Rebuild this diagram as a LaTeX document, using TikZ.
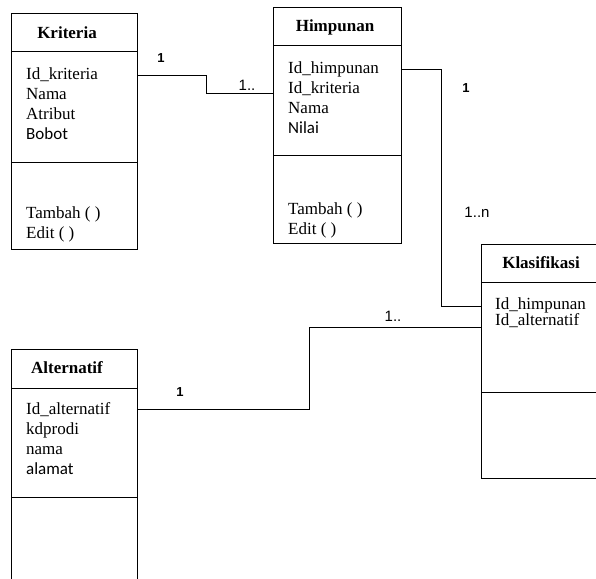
\documentclass[tikz,border=0pt]{standalone}
\usepackage{fontspec}
\setmainfont{Liberation Serif}
\newfontfamily\arialfont{Liberation Sans}
\newfontfamily\calibfont{Carlito}
\usetikzlibrary{positioning}
\tikzset{
  compart/.style={draw, line width=1pt, anchor=north west, inner sep=0pt, outer sep=0pt},
  classname/.style={font=\fontsize{17}{20}\selectfont\bfseries, inner sep=0pt},
  members/.style={font=\fontsize{17}{20}\selectfont, align=left, anchor=north west, inner sep=0pt},
  mult/.style={font=\arialfont\fontsize{15}{18}\selectfont, inner sep=0pt},
  multone/.style={font=\arialfont\fontsize{13}{15}\selectfont\bfseries, inner sep=0pt},
  link/.style={line width=1pt},
}

\begin{document}
\begin{tikzpicture}[x=1pt, y=-1pt]
    \useasboundingbox (0,0) rectangle (596,578);
    % Kriteria
    \node [compart, minimum width=126, minimum height=38] (kritHead) at (11,14) {};
    \node [compart, minimum width=126, minimum height=110] (kritAttr) at (11,52) {};
    \node [compart, minimum width=126, minimum height=87] (kritOps) at (11,162) {};
    \node [classname] (kritName) at (67,33) {Kriteria};
    \node [members] (kritList) at (26,67.5) {Id\_kriteria\\Nama\\Atribut\\{\calibfont Bobot}};
    \node [members] (kritOpsList) at (26,206.5) {Tambah ( )\\Edit ( )};
    % Himpunan
    \node [compart, minimum width=128, minimum height=38] (himHead) at (273,8) {};
    \node [compart, minimum width=128, minimum height=109] (himAttr) at (273,46) {};
    \node [compart, minimum width=128, minimum height=88] (himOps) at (273,155) {};
    \node [classname] (himName) at (335,27) {Himpunan};
    \node [members] (himList) at (288,61.5) {Id\_himpunan\\Id\_kriteria\\Nama\\{\calibfont Nilai}};
    \node [members] (himOpsList) at (288,202.5) {Tambah ( )\\Edit ( )};
    % Klasifikasi
    \node [compart, minimum width=122, minimum height=38] (klasHead) at (481,244) {};
    \node [compart, minimum width=122, minimum height=110] (klasAttr) at (481,282) {};
    \node [compart, minimum width=122, minimum height=86] (klasOps) at (481,392) {};
    \node [classname] (klasName) at (541,263) {Klasifikasi};
    \node [members, font=\fontsize{17}{16}\selectfont] (klasList) at (495,297) {Id\_himpunan\\Id\_alternatif};
    % Alternatif
    \node [compart, minimum width=126, minimum height=39] (altHead) at (11,349) {};
    \node [compart, minimum width=126, minimum height=109] (altAttr) at (11,388) {};
    \node [compart, minimum width=126, minimum height=95] (altOps) at (11,497) {};
    \node [classname] (altName) at (67,368) {Alternatif};
    \node [members] (altList) at (26,402.5) {Id\_alternatif\\kdprodi\\nama\\{\calibfont alamat}};

    % ends of the links
    \coordinate (kritOut) at ([yshift=-23pt]kritAttr.north east);
    \coordinate (himIn) at ([yshift=-47pt]himAttr.north west);
    \coordinate (himOut) at ([yshift=-23pt]himAttr.north east);
    \coordinate (klasIn1) at ([yshift=-24pt]klasAttr.north west);
    \coordinate (altOut) at ([yshift=-21pt]altAttr.north east);
    \coordinate (klasIn2) at ([yshift=-45pt]klasAttr.north west);

    \draw [link] (kritOut) -- ++(69,0) |- (himIn);
    \draw [link] (himOut) -- ++(40,0) |- (klasIn1);
    \draw [link] (altOut) -- ++(172,0) |- (klasIn2);

    % multiplicities
    \node [multone] (m1) at (161,58) {1};
    \node [mult] (m2) at (247,85) {1..};
    \node [multone] (m3) at (466,88) {1};
    \node [mult] (m4) at (477,212) {1..n};
    \node [mult] (m5) at (393,316) {1..};
    \node [multone] (m6) at (180,392) {1};
\end{tikzpicture}
\end{document}
